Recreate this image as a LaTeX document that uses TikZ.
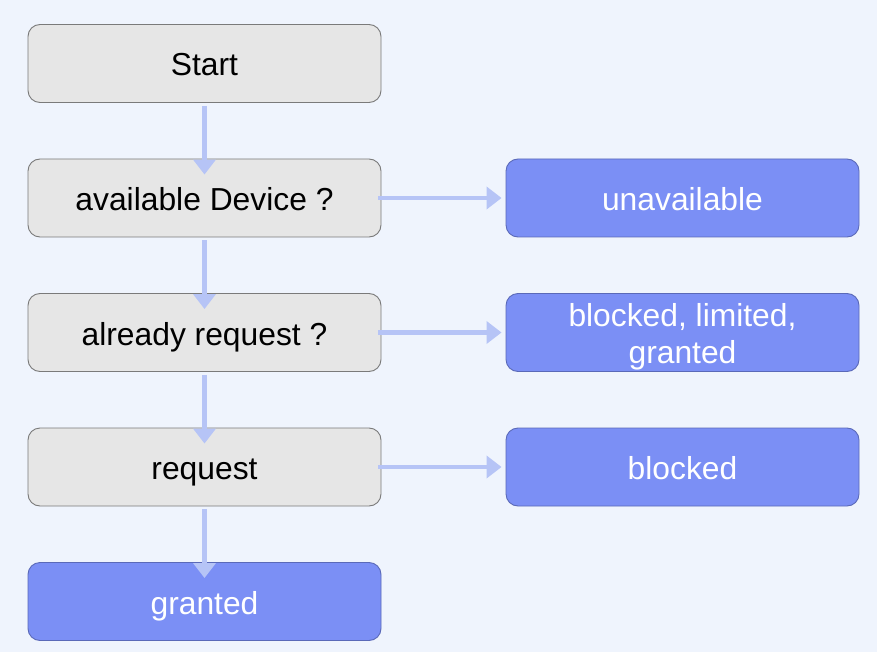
\documentclass[tikz,border=0pt]{standalone}
\usepackage{fontspec}
\setmainfont{Liberation Sans}
\usetikzlibrary{arrows.meta}
\definecolor{bg}{HTML}{EFF4FD}
\definecolor{grayfill}{HTML}{E6E6E6}
\definecolor{grayline}{HTML}{7A7A7A}
\definecolor{bluefill}{HTML}{7B8FF5}
\definecolor{blueline}{HTML}{5A69B8}
\definecolor{arrowc}{HTML}{B6C4F6}
\tikzset{
  box/.style={rectangle, rounded corners=12pt, minimum width=353pt, minimum height=78pt,
    line width=0.9pt, align=center, inner sep=0pt,
    font=\fontsize{31.8}{37}\selectfont},
  oneline/.style={text height=30pt, text depth=5pt},
  graybox/.style={box, fill=grayfill, draw=grayline, text=black},
  bluebox/.style={box, fill=bluefill, draw=blueline, text=white},
  arr/.style={draw=arrowc, line width=4.5pt, -{Triangle[width=22pt,length=15pt]}}
}
\begin{document}
\begin{tikzpicture}[x=1pt,y=-1pt]
\fill[bg] (0,0) rectangle (877,652);
\useasboundingbox (0,0) rectangle (877,652);
\node[graybox,oneline] (s) at (204.5,63.5) {Start};
\node[graybox,oneline] (a) at (204.5,198) {available Device ?};
\node[graybox,oneline] (r) at (204.5,332.5) {already request ?};
\node[graybox,oneline] (q) at (204.5,467) {request};
\node[bluebox,oneline] (g) at (204.5,601.5) {granted};
\node[bluebox,oneline] (u) at (682.5,198) {unavailable};
\node[bluebox] (b) at (682.5,332.5) {\rule{0pt}{31pt}blocked, limited,\\granted};
\node[bluebox,oneline] (k) at (682.5,467) {blocked};
\draw[arr] ([yshift=-3pt]s.south) -- ([yshift=-16pt]a.north);
\draw[arr] ([yshift=-3pt]a.south) -- ([yshift=-16pt]r.north);
\draw[arr] ([yshift=-3pt]r.south) -- ([yshift=-16pt]q.north);
\draw[arr] ([yshift=-3pt]q.south) -- ([yshift=-16pt]g.north);
\draw[arr] ([xshift=-3pt]a.east) -- ([xshift=-4pt]u.west);
\draw[arr] ([xshift=-3pt]r.east) -- ([xshift=-4pt]b.west);
\draw[arr] ([xshift=-3pt]q.east) -- ([xshift=-4pt]k.west);
\end{tikzpicture}
\end{document}
